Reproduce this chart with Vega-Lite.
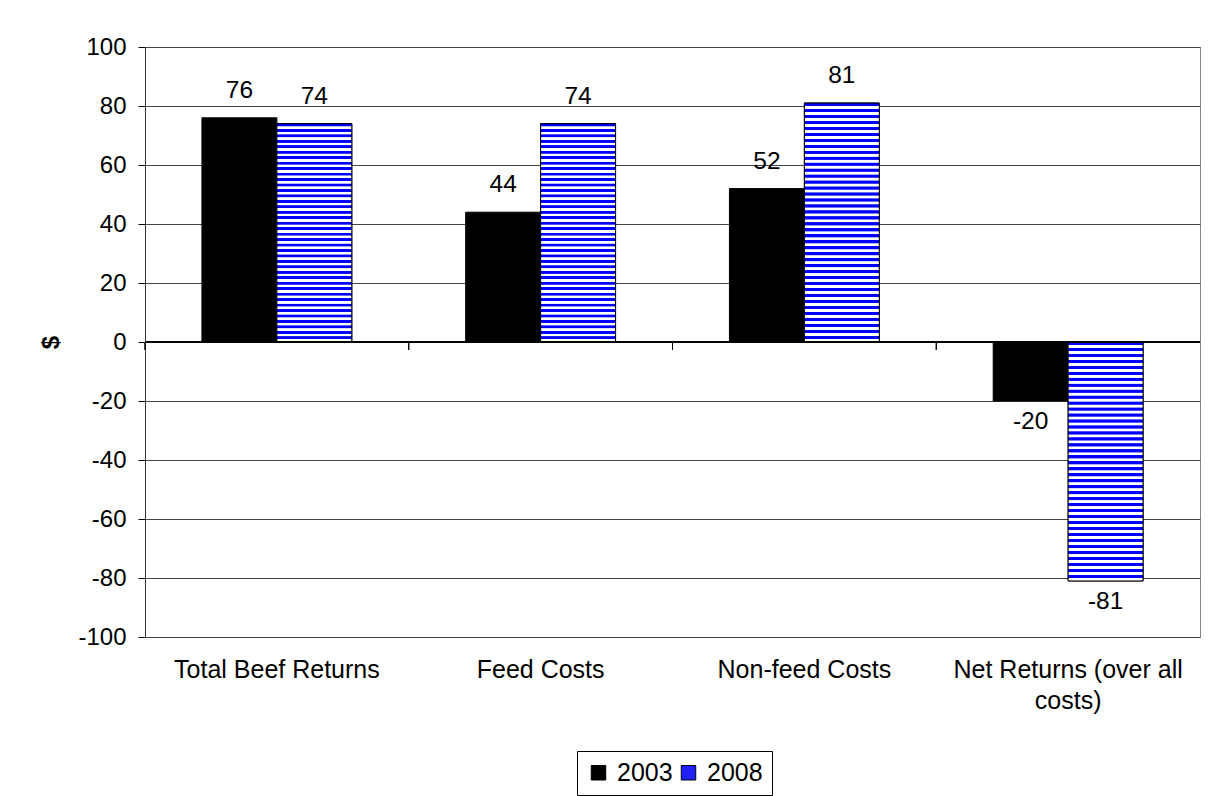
{
  "$schema": "https://vega.github.io/schema/vega-lite/v6.json",
  "width": 1055,
  "height": 590,
  "autosize": {"type": "none"},
  "padding": {"left": 145, "top": 47, "right": 15, "bottom": 159},
  "background": "white",
  "config": {"font": "Liberation Sans", "view": {"stroke": "#888", "strokeWidth": 1}},
  "data": {"values": [
    {"category": "Total Beef Returns", "year": "2003", "value": 76},
    {"category": "Total Beef Returns", "year": "2008", "value": 74},
    {"category": "Feed Costs", "year": "2003", "value": 44},
    {"category": "Feed Costs", "year": "2008", "value": 74},
    {"category": "Non-feed Costs", "year": "2003", "value": 52},
    {"category": "Non-feed Costs", "year": "2008", "value": 81},
    {"category": "Net Returns (over all costs)", "year": "2003", "value": -20},
    {"category": "Net Returns (over all costs)", "year": "2008", "value": -81}
  ]},
  "layer": [
    {
      "mark": {"type": "bar", "stroke": "#000", "strokeWidth": 1},
      "encoding": {
        "x": {"field": "category", "type": "nominal", "sort": null,
          "scale": {"paddingInner": 0, "paddingOuter": 0},
          "axis": {"title": null, "labelAngle": 0, "ticks": false, "domain": false, "grid": false,
            "labelFontSize": 25, "labelColor": "#000", "labelPadding": 20, "labelLineHeight": 31, "labelLimit": 400,
            "labelExpr": "datum.value == 'Net Returns (over all costs)' ? ['Net Returns (over all', 'costs)'] : datum.label"}},
        "xOffset": {"field": "year", "type": "nominal", "scale": {"paddingOuter": 0.76, "paddingInner": 0}},
        "y": {"field": "value", "type": "quantitative",
          "scale": {"domain": [-100, 100], "nice": false},
          "axis": {"title": "$", "titleFontSize": 24, "titleFontWeight": "bold", "titleColor": "#000", "titlePadding": 14,
            "values": [-100, -80, -60, -40, -20, 0, 20, 40, 60, 80, 100],
            "labelExpr": "toString(datum.value)",
            "labelFontSize": 24, "labelColor": "#000", "tickColor": "#000", "tickSize": 7, "labelPadding": 12,
            "domainColor": "#333", "gridColor": "#444"}},
        "fill": {"field": "year", "type": "nominal",
          "scale": {"range": ["#000000", "#1f1fff"]},
          "legend": {"title": null, "orient": "none", "legendX": 432, "legendY": 704, "direction": "horizontal",
            "strokeColor": "#000", "fillColor": "#fff", "padding": 9,
            "symbolType": "square", "symbolSize": 210, "symbolStrokeColor": "#000", "symbolStrokeWidth": 1, "symbolOpacity": 1,
            "labelFontSize": 25, "labelColor": "#000", "labelOffset": 6, "columnPadding": 3}}
      }
    },
    {
      "transform": [{"filter": "datum.year === '2008'"}],
      "mark": {"type": "bar", "stroke": "#000", "strokeWidth": 1,
        "fill": {"gradient": "linear", "x1": 0, "y1": 0, "x2": 0, "y2": 1, "stops": [
            {"offset": 0, "color": "#00f"}, {"offset": 0.011, "color": "#00f"}, {"offset": 0.0135, "color": "#fff"}, {"offset": 0.0235, "color": "#fff"},
            {"offset": 0.025, "color": "#00f"}, {"offset": 0.036, "color": "#00f"}, {"offset": 0.0385, "color": "#fff"}, {"offset": 0.0485, "color": "#fff"},
            {"offset": 0.05, "color": "#00f"}, {"offset": 0.061, "color": "#00f"}, {"offset": 0.0635, "color": "#fff"}, {"offset": 0.0735, "color": "#fff"},
            {"offset": 0.075, "color": "#00f"}, {"offset": 0.086, "color": "#00f"}, {"offset": 0.0885, "color": "#fff"}, {"offset": 0.0985, "color": "#fff"},
            {"offset": 0.1, "color": "#00f"}, {"offset": 0.111, "color": "#00f"}, {"offset": 0.1135, "color": "#fff"}, {"offset": 0.1235, "color": "#fff"},
            {"offset": 0.125, "color": "#00f"}, {"offset": 0.136, "color": "#00f"}, {"offset": 0.1385, "color": "#fff"}, {"offset": 0.1485, "color": "#fff"},
            {"offset": 0.15, "color": "#00f"}, {"offset": 0.161, "color": "#00f"}, {"offset": 0.1635, "color": "#fff"}, {"offset": 0.1735, "color": "#fff"},
            {"offset": 0.175, "color": "#00f"}, {"offset": 0.186, "color": "#00f"}, {"offset": 0.1885, "color": "#fff"}, {"offset": 0.1985, "color": "#fff"},
            {"offset": 0.2, "color": "#00f"}, {"offset": 0.211, "color": "#00f"}, {"offset": 0.2135, "color": "#fff"}, {"offset": 0.2235, "color": "#fff"},
            {"offset": 0.225, "color": "#00f"}, {"offset": 0.236, "color": "#00f"}, {"offset": 0.2385, "color": "#fff"}, {"offset": 0.2485, "color": "#fff"},
            {"offset": 0.25, "color": "#00f"}, {"offset": 0.261, "color": "#00f"}, {"offset": 0.2635, "color": "#fff"}, {"offset": 0.2735, "color": "#fff"},
            {"offset": 0.275, "color": "#00f"}, {"offset": 0.286, "color": "#00f"}, {"offset": 0.2885, "color": "#fff"}, {"offset": 0.2985, "color": "#fff"},
            {"offset": 0.3, "color": "#00f"}, {"offset": 0.311, "color": "#00f"}, {"offset": 0.3135, "color": "#fff"}, {"offset": 0.3235, "color": "#fff"},
            {"offset": 0.325, "color": "#00f"}, {"offset": 0.336, "color": "#00f"}, {"offset": 0.3385, "color": "#fff"}, {"offset": 0.3485, "color": "#fff"},
            {"offset": 0.35, "color": "#00f"}, {"offset": 0.361, "color": "#00f"}, {"offset": 0.3635, "color": "#fff"}, {"offset": 0.3735, "color": "#fff"},
            {"offset": 0.375, "color": "#00f"}, {"offset": 0.386, "color": "#00f"}, {"offset": 0.3885, "color": "#fff"}, {"offset": 0.3985, "color": "#fff"},
            {"offset": 0.4, "color": "#00f"}, {"offset": 0.411, "color": "#00f"}, {"offset": 0.4135, "color": "#fff"}, {"offset": 0.4235, "color": "#fff"},
            {"offset": 0.425, "color": "#00f"}, {"offset": 0.436, "color": "#00f"}, {"offset": 0.4385, "color": "#fff"}, {"offset": 0.4485, "color": "#fff"},
            {"offset": 0.45, "color": "#00f"}, {"offset": 0.461, "color": "#00f"}, {"offset": 0.4635, "color": "#fff"}, {"offset": 0.4735, "color": "#fff"},
            {"offset": 0.475, "color": "#00f"}, {"offset": 0.486, "color": "#00f"}, {"offset": 0.4885, "color": "#fff"}, {"offset": 0.4985, "color": "#fff"},
            {"offset": 0.5, "color": "#00f"}, {"offset": 0.511, "color": "#00f"}, {"offset": 0.5135, "color": "#fff"}, {"offset": 0.5235, "color": "#fff"},
            {"offset": 0.525, "color": "#00f"}, {"offset": 0.536, "color": "#00f"}, {"offset": 0.5385, "color": "#fff"}, {"offset": 0.5485, "color": "#fff"},
            {"offset": 0.55, "color": "#00f"}, {"offset": 0.561, "color": "#00f"}, {"offset": 0.5635, "color": "#fff"}, {"offset": 0.5735, "color": "#fff"},
            {"offset": 0.575, "color": "#00f"}, {"offset": 0.586, "color": "#00f"}, {"offset": 0.5885, "color": "#fff"}, {"offset": 0.5985, "color": "#fff"},
            {"offset": 0.6, "color": "#00f"}, {"offset": 0.611, "color": "#00f"}, {"offset": 0.6135, "color": "#fff"}, {"offset": 0.6235, "color": "#fff"},
            {"offset": 0.625, "color": "#00f"}, {"offset": 0.636, "color": "#00f"}, {"offset": 0.6385, "color": "#fff"}, {"offset": 0.6485, "color": "#fff"},
            {"offset": 0.65, "color": "#00f"}, {"offset": 0.661, "color": "#00f"}, {"offset": 0.6635, "color": "#fff"}, {"offset": 0.6735, "color": "#fff"},
            {"offset": 0.675, "color": "#00f"}, {"offset": 0.686, "color": "#00f"}, {"offset": 0.6885, "color": "#fff"}, {"offset": 0.6985, "color": "#fff"},
            {"offset": 0.7, "color": "#00f"}, {"offset": 0.711, "color": "#00f"}, {"offset": 0.7135, "color": "#fff"}, {"offset": 0.7235, "color": "#fff"},
            {"offset": 0.725, "color": "#00f"}, {"offset": 0.736, "color": "#00f"}, {"offset": 0.7385, "color": "#fff"}, {"offset": 0.7485, "color": "#fff"},
            {"offset": 0.75, "color": "#00f"}, {"offset": 0.761, "color": "#00f"}, {"offset": 0.7635, "color": "#fff"}, {"offset": 0.7735, "color": "#fff"},
            {"offset": 0.775, "color": "#00f"}, {"offset": 0.786, "color": "#00f"}, {"offset": 0.7885, "color": "#fff"}, {"offset": 0.7985, "color": "#fff"},
            {"offset": 0.8, "color": "#00f"}, {"offset": 0.811, "color": "#00f"}, {"offset": 0.8135, "color": "#fff"}, {"offset": 0.8235, "color": "#fff"},
            {"offset": 0.825, "color": "#00f"}, {"offset": 0.836, "color": "#00f"}, {"offset": 0.8385, "color": "#fff"}, {"offset": 0.8485, "color": "#fff"},
            {"offset": 0.85, "color": "#00f"}, {"offset": 0.861, "color": "#00f"}, {"offset": 0.8635, "color": "#fff"}, {"offset": 0.8735, "color": "#fff"},
            {"offset": 0.875, "color": "#00f"}, {"offset": 0.886, "color": "#00f"}, {"offset": 0.8885, "color": "#fff"}, {"offset": 0.8985, "color": "#fff"},
            {"offset": 0.9, "color": "#00f"}, {"offset": 0.911, "color": "#00f"}, {"offset": 0.9135, "color": "#fff"}, {"offset": 0.9235, "color": "#fff"},
            {"offset": 0.925, "color": "#00f"}, {"offset": 0.936, "color": "#00f"}, {"offset": 0.9385, "color": "#fff"}, {"offset": 0.9485, "color": "#fff"},
            {"offset": 0.95, "color": "#00f"}, {"offset": 0.961, "color": "#00f"}, {"offset": 0.9635, "color": "#fff"}, {"offset": 0.9735, "color": "#fff"},
            {"offset": 0.975, "color": "#00f"}, {"offset": 0.986, "color": "#00f"}, {"offset": 0.9885, "color": "#fff"}, {"offset": 1, "color": "#fff"}
          ]}},
      "encoding": {
        "x": {"field": "category", "type": "nominal", "sort": null},
        "xOffset": {"field": "year", "type": "nominal"},
        "y": {"field": "value", "type": "quantitative"}
      }
    },
    {
      "mark": {"type": "rule", "color": "#000", "strokeWidth": 1},
      "encoding": {"y": {"datum": 0}}
    },
    {
      "mark": {"type": "rule", "color": "#000", "strokeWidth": 1},
      "encoding": {
        "x": {"field": "category", "type": "nominal", "sort": null, "bandPosition": 0},
        "y": {"datum": 0},
        "y2": {"datum": -2.7}
      }
    },
    {
      "transform": [{"filter": "datum.value >= 0"}],
      "mark": {"type": "text", "fontSize": 24.5, "baseline": "middle", "dy": -27, "color": "#000"},
      "encoding": {
        "x": {"field": "category", "type": "nominal", "sort": null},
        "xOffset": {"field": "year", "type": "nominal"},
        "y": {"field": "value", "type": "quantitative"},
        "text": {"field": "value", "type": "nominal"}
      }
    },
    {
      "transform": [{"filter": "datum.value < 0"}],
      "mark": {"type": "text", "fontSize": 24.5, "baseline": "middle", "dy": 21, "color": "#000"},
      "encoding": {
        "x": {"field": "category", "type": "nominal", "sort": null},
        "xOffset": {"field": "year", "type": "nominal"},
        "y": {"field": "value", "type": "quantitative"},
        "text": {"field": "value", "type": "nominal"}
      }
    }
  ]
}
